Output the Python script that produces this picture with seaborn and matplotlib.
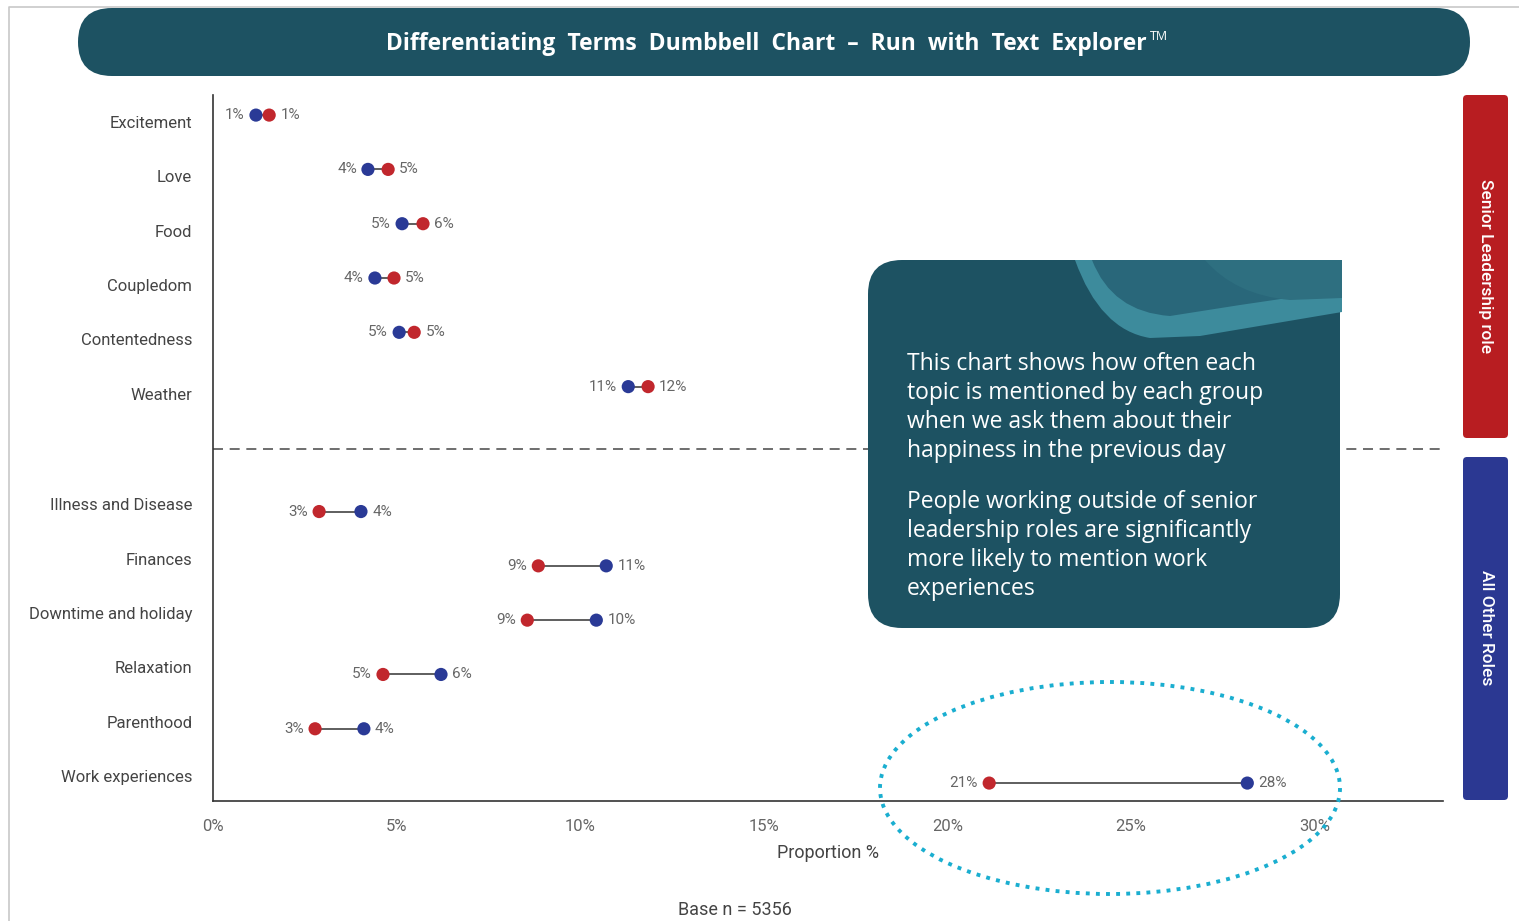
import numpy as np
import pandas as pd
import seaborn as sns
import matplotlib.pyplot as plt
from matplotlib.patches import FancyBboxPatch, Ellipse, PathPatch
from matplotlib.path import Path

# data
topics = ['Excitement', 'Love', 'Food', 'Coupledom', 'Contentedness', 'Weather',
          'Illness and Disease', 'Finances', 'Downtime and holiday', 'Relaxation',
          'Parenthood', 'Work experiences']
senior = [1.53, 4.77, 5.72, 4.93, 5.48, 11.85, 2.89, 8.86, 8.56, 4.63, 2.78, 21.14]
others = [1.17, 4.22, 5.15, 4.41, 5.07, 11.31, 4.03, 10.71, 10.44, 6.21, 4.11, 28.17]
senior_lbl = [1, 5, 6, 5, 5, 12, 3, 9, 9, 5, 3, 21]
others_lbl = [1, 4, 5, 4, 5, 11, 4, 11, 10, 6, 4, 28]
xticks = [0, 5, 10, 15, 20, 25, 30]

RED = '#c1272d'
BLUE = '#2a3a96'
TEAL = '#1d5262'

sns.set_theme(style='white')
plt.rcParams['font.family'] = ['Roboto', 'DejaVu Sans']

# row positions: two groups of six with a gap for the divider
ypos = [i if i < 6 else i + 1.3 for i in range(len(topics))]
df = pd.DataFrame({'topic': topics, 'y': ypos, 'senior': senior, 'others': others})
long = df.melt(id_vars=['topic', 'y'], value_vars=['others', 'senior'],
               var_name='group', value_name='pct')

fig = plt.figure(figsize=(15.19, 9.21), dpi=100)
ax = fig.add_axes([213 / 1519, 120 / 921, 1230 / 1519, 706 / 921])

ax.hlines(df['y'], df[['senior', 'others']].min(axis=1), df[['senior', 'others']].max(axis=1),
          color='#333333', lw=1.1, zorder=1)
sns.scatterplot(data=long, x='pct', y='y', hue='group', palette={'others': BLUE, 'senior': RED},
                s=90, edgecolor='none', legend=False, ax=ax, zorder=3)

for _, r in df.iterrows():
    i = topics.index(r['topic'])
    lo_is_senior = r['senior'] <= r['others']
    lo, hi = (r['senior'], r['others']) if lo_is_senior else (r['others'], r['senior'])
    lo_t = senior_lbl[i] if lo_is_senior else others_lbl[i]
    hi_t = others_lbl[i] if lo_is_senior else senior_lbl[i]
    ax.annotate(f'{lo_t}%', (lo, r['y']), xytext=(-8, 0), textcoords='offset points',
                ha='right', va='center', fontsize=11, color='#666666')
    ax.annotate(f'{hi_t}%', (hi, r['y']), xytext=(8, 0), textcoords='offset points',
                ha='left', va='center', fontsize=11, color='#666666')

ax.axhline(6.15, color='#555555', lw=1.2, ls=(0, (6, 4)), zorder=0)

ax.set_xlim(0, 33.5)
ax.set_ylim(12.63, -0.37)
ax.set_xticks(xticks)
ax.set_xticklabels([f'{t}%' for t in xticks], color='#666666', fontsize=12)
# category labels sit slightly towards the divider
ax.set_yticks([y + 0.13 if i < 6 else y - 0.13 for i, y in enumerate(ypos)])
ax.set_yticklabels(topics, color='#444444', fontsize=12)
ax.tick_params(axis='x', direction='out', length=7, width=1, color='#444444', pad=6)
ax.tick_params(axis='y', length=0, pad=15)
ax.set_xlabel('Proportion %', fontsize=13, color='#444444', labelpad=7)
ax.set_ylabel('')
sns.despine(ax=ax)
for s in ['left', 'bottom']:
    ax.spines[s].set_color('#333333')
    ax.spines[s].set_linewidth(1.2)

fig.text(735 / 1519, 1 - 910 / 921, 'Base n = 5356', ha='center', va='center',
         fontsize=13, color='#444444')

# overlay in pixel coordinates for the decorations
ov = fig.add_axes([0, 0, 1, 1], zorder=5)
ov.set_xlim(0, 1519)
ov.set_ylim(921, 0)
ov.axis('off')
ov.patch.set_alpha(0)

ov.plot([9, 9, 1519], [921, 7, 7], color='#c8c8c8', lw=1.2)

ov.add_patch(FancyBboxPatch((78, 8), 1392, 68, boxstyle='round,pad=0,rounding_size=34',
                            fc=TEAL, ec='none'))
ov.text(766, 44, 'Differentiating  Terms  Dumbbell  Chart  –  Run  with  Text  Explorer',
        ha='center', va='center', color='white', fontsize=16.5, fontweight='bold',
        family=['Open Sans', 'DejaVu Sans'])
ov.text(1159, 36, 'TM', ha='center', va='center', color='white', fontsize=9,
        family=['Open Sans', 'DejaVu Sans'])

# callout box
box = FancyBboxPatch((868, 260), 472, 368, boxstyle='round,pad=0,rounding_size=34',
                     fc=TEAL, ec='none')
ov.add_patch(box)
band = Path([(1075, 260), (1100, 330), (1150, 338), (1200, 336), (1342, 312), (1342, 260), (1075, 260)],
            [Path.MOVETO, Path.CURVE3, Path.CURVE3, Path.LINETO, Path.LINETO, Path.LINETO, Path.CLOSEPOLY])
ov.add_patch(PathPatch(band, fc='#3d8b9c', ec='none'))
inner = Path([(1092, 260), (1112, 312), (1170, 316), (1240, 305), (1342, 290), (1342, 260), (1092, 260)],
             [Path.MOVETO, Path.CURVE3, Path.CURVE3, Path.LINETO, Path.LINETO, Path.LINETO, Path.CLOSEPOLY])
ov.add_patch(PathPatch(inner, fc='#29677a', ec='none'))
arc = Path([(1205, 260), (1235, 295), (1290, 300), (1342, 298), (1342, 260), (1205, 260)],
           [Path.MOVETO, Path.CURVE3, Path.CURVE3, Path.LINETO, Path.LINETO, Path.CLOSEPOLY])
ov.add_patch(PathPatch(arc, fc='#2e6f80', ec='none'))

txt1 = ('This chart shows how often each\ntopic is mentioned by each group\n'
        'when we ask them about their\nhappiness in the previous day')
txt2 = ('People working outside of senior\nleadership roles are significantly\n'
        'more likely to mention work\nexperiences')
ov.text(907, 352, txt1, ha='left', va='top', color='white', fontsize=16.5,
        linespacing=1.27, family=['Open Sans', 'DejaVu Sans'])
ov.text(907, 490, txt2, ha='left', va='top', color='white', fontsize=16.5,
        linespacing=1.27, family=['Open Sans', 'DejaVu Sans'])

# side group tags
ov.add_patch(FancyBboxPatch((1463, 95), 45, 343, boxstyle='round,pad=0,rounding_size=4',
                            fc='#b81d21', ec='none'))
ov.add_patch(FancyBboxPatch((1463, 457), 45, 343, boxstyle='round,pad=0,rounding_size=4',
                            fc='#2b3892', ec='none'))
ov.text(1486, 266, 'Senior Leadership role', rotation=-90, ha='center', va='center',
        color='white', fontsize=12.5, fontweight='medium')
ov.text(1486, 628, 'All Other Roles', rotation=-90, ha='center', va='center',
        color='white', fontsize=12.5, fontweight='medium')

ov.add_patch(Ellipse((1110, 788), 460, 212, fill=False, ec='#1aaed0', lw=2.8, ls=(0, (1, 1.6))))

fig.savefig('out.png', dpi=100)
